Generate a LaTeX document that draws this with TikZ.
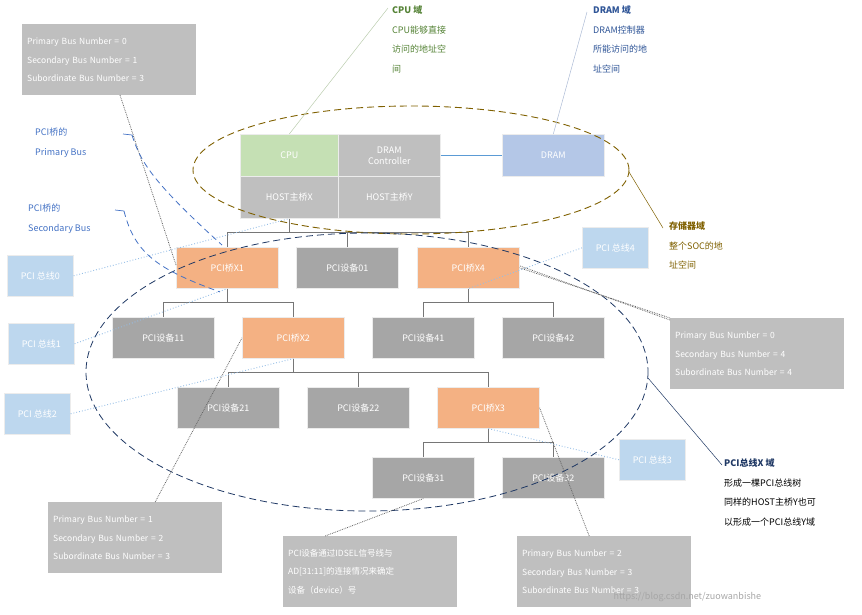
\documentclass[tikz,border=0pt]{standalone}
\usepackage{fontspec}
\setmainfont{Noto Sans CJK SC}
\begin{document}
\begin{tikzpicture}[x=1pt,y=-1pt,font=\fontsize{9}{11}\selectfont,
 box/.style={draw=white!85!gray,line width=0.6pt,text=white,minimum width=102pt,minimum height=41pt,inner sep=1pt,align=center,anchor=north west},
 br/.style={box,fill={rgb,255:red,244;green,177;blue,131}},
 dev/.style={box,fill={rgb,255:red,166;green,166;blue,166}},
 lg/.style={box,fill={rgb,255:red,191;green,191;blue,191}},
 bus/.style={box,fill={rgb,255:red,189;green,215;blue,238},minimum width=66pt},
 info/.style={anchor=north west,fill={rgb,255:red,191;green,191;blue,191},text=white,minimum width=174pt,minimum height=71pt,align=left,inner sep=5pt,text width=164pt,font=\fontsize{8.5}{18.5}\selectfont},
 tree/.style={draw={rgb,255:red,118;green,118;blue,118},line width=1.5pt},
 bdot/.style={draw={rgb,255:red,150;green,190;blue,230},dotted,line width=0.9pt},
 gdot/.style={draw=gray!80!black,densely dotted,line width=0.8pt},
 ann/.style={anchor=north west,align=left,font=\fontsize{9}{19.5}\selectfont,inner sep=0pt}]
\useasboundingbox (0,0) rectangle (862,614);
\definecolor{cpug}{RGB}{84,130,53}
\definecolor{dramb}{RGB}{47,85,151}
\definecolor{memb}{RGB}{127,96,0}
\definecolor{pcib}{RGB}{31,56,100}
\definecolor{lbl}{RGB}{68,114,196}
\definecolor{link}{RGB}{91,155,213}
% host
\node[box,fill={rgb,255:red,197;green,224;blue,180},minimum width=98pt,minimum height=42pt] (cpu) at (240,134) {CPU};
\node[lg,minimum height=42pt] (dc) at (338,134) {DRAM\\Controller};
\node[lg,minimum width=98pt,minimum height=42pt] (hx) at (240,176) {HOST主桥X};
\node[lg,minimum height=42pt] (hy) at (338,176) {HOST主桥Y};
\node[box,fill={rgb,255:red,180;green,199;blue,231},minimum height=42pt] (dram) at (502,134) {DRAM};
\draw[link,line width=1.3pt] (dc.east) -- (dram.west);
% tree nodes
\node[br] (x1) at (176,247) {PCI桥X1};
\node[dev] (d01) at (296,247) {PCI设备01};
\node[br] (x4) at (417,247) {PCI桥X4};
\node[dev] (d11) at (112,317) {PCI设备11};
\node[br] (x2) at (242,317) {PCI桥X2};
\node[dev] (d41) at (372,317) {PCI设备41};
\node[dev] (d42) at (502,317) {PCI设备42};
\node[dev] (d21) at (177,387) {PCI设备21};
\node[dev] (d22) at (307,387) {PCI设备22};
\node[br] (x3) at (437,387) {PCI桥X3};
\node[dev] (d31) at (372,457) {PCI设备31};
\node[dev] (d32) at (502,457) {PCI设备32};
\draw[tree] (hx.south) -- ++(0,14) coordinate (j0);
\draw[tree] (x1.north) |- (j0) -| (x4.north); \draw[tree] (d01.north) -- (d01.north|-j0);
\draw[tree] (x1.south) -- ++(0,14) coordinate (j1); \draw[tree] (d11.north) |- (j1) -| (x2.north);
\draw[tree] (x4.south) -- ++(0,14) coordinate (j4); \draw[tree] (d41.north) |- (j4) -| (d42.north);
\draw[tree] (x2.south) -- ++(0,14) coordinate (j2); \draw[tree] (d21.north) |- (j2) -| (x3.north); \draw[tree] (d22.north) -- (d22.north|-j2);
\draw[tree] (x3.south) -- ++(0,14) coordinate (j3); \draw[tree] (d31.north) |- (j3) -| (d32.north);
% ellipses
\draw[memb,dashed,dash pattern=on 7pt off 4pt,line width=0.9pt] (411,170) ellipse [x radius=218,y radius=64];
\draw[pcib,dashed,dash pattern=on 7pt off 4pt,line width=0.8pt] (367,372) ellipse [x radius=281,y radius=139];
% buses
\node[bus] (b0) at (7,255) {PCI 总线0};
\node[bus] (b1) at (8,323) {PCI 总线1};
\node[bus] (b2) at (4,393) {PCI 总线2};
\node[bus] (b3) at (619,439) {PCI 总线3};
\node[bus] (b4) at (582,227) {PCI 总线4};
\draw[bdot] (b0.east) -- (hx.south);
\draw[bdot] (b1.east) -- (x1.south);
\draw[bdot] (b2.east) -- (x2.south);
\draw[bdot] (b3.west) -- (x3.south);
\draw[bdot] (b4.west) -- (x4.south);
% info boxes
\node[info] (i1) at (22,24) {Primary Bus Number = 0\\Secondary Bus Number = 1\\Subordinate Bus Number = 3};
\node[info] (i4) at (670,318) {Primary Bus Number = 0\\Secondary Bus Number = 4\\Subordinate Bus Number = 4};
\node[info] (i2) at (48,502) {Primary Bus Number = 1\\Secondary Bus Number = 2\\Subordinate Bus Number = 3};
\node[info] (i3) at (517,536) {Primary Bus Number = 2\\Secondary Bus Number = 3\\Subordinate Bus Number = 3};
\node[info] (idev) at (283,536) {PCI设备通过IDSEL信号线与\\AD[31:11]的连接情况来确定\\设备（device）号};
\draw[gdot] (120,95) -- (176,265);
\draw[gdot] (i2.north) ++(20,0) -- (x2.west);
\draw[gdot] (idev.north) ++(-45,0) -- (d31.south);
\draw[gdot] (i3.north) ++(-15,0) -- (x3.east);
\draw[gdot] (i4.north west) -- (x4.east);
\draw[gdot] (i4.north west) ++(0,2) -- ([yshift=2pt]x4.east);
% labels
\node[ann,text=cpug] (tcpu) at (392,6) {\textbf{CPU 域}\\CPU能够直接\\访问的地址空\\间};
\draw[draw=cpug!40,line width=0.5pt] (cpu.north) -- (388,8);
\node[ann,text=dramb] (tdram) at (593,6) {\textbf{DRAM 域}\\DRAM控制器\\所能访问的地\\址空间};
\draw[draw=dramb!40,line width=0.5pt] (dram.north) -- (587,12);
\node[ann,text=memb] (tmem) at (669,222) {\textbf{存储器域}\\整个SOC的地\\址空间};
\draw[draw=memb,line width=0.5pt] (629,172) -- (663,228);
\node[ann,text=black] (tpci) at (724,459) {\textcolor{pcib}{\textbf{PCI总线X 域}}\\形成一棵PCI总线树\\同样的HOST主桥Y也可\\以形成一个PCI总线Y域};
\draw[draw=pcib,line width=0.5pt] (648,378) -- (722,465);
\node[ann,text=lbl] (tp) at (35,128) {PCI桥的\\Primary Bus};
\node[ann,text=lbl] (ts) at (28,204) {PCI桥的\\Secondary Bus};
\draw[lbl,line width=0.7pt] (123,134) -- (132,135);
\draw[lbl,dashed,dash pattern=on 6pt off 4pt,line width=0.8pt] (132,135) .. controls (140,160) and (150,180) .. (222,245);
\draw[lbl,line width=0.7pt] (115,210) -- (124,211);
\draw[lbl,dashed,dash pattern=on 6pt off 4pt,line width=0.8pt] (124,211) .. controls (135,255) and (160,270) .. (220,292);
\node[anchor=north west,text=gray!70,font=\fontsize{9}{10}\selectfont] (wm) at (610,589) {https://blog.csdn.net/zuowanbishe};
\end{tikzpicture}
\end{document}
